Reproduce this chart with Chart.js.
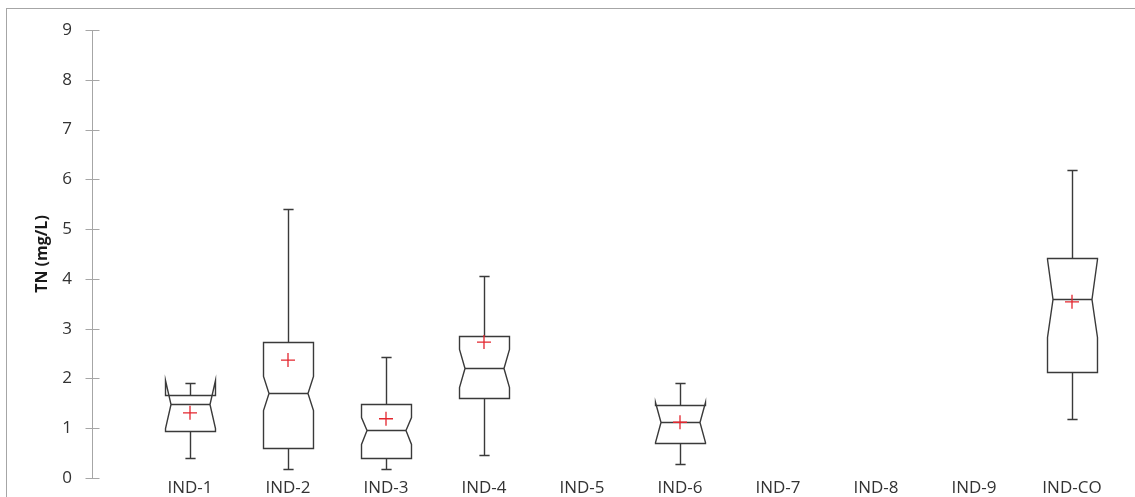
<!DOCTYPE html>
<html>
<head>
<meta charset="utf-8">
<script src="https://cdn.jsdelivr.net/npm/chart.js@4/dist/chart.umd.min.js"></script>
<style>
  html, body { margin: 0; padding: 0; background: #ffffff; }
  #wrap { width: 1135px; height: 497px; position: relative; }
</style>
</head>
<body>
<div id="wrap"><canvas id="chart"></canvas></div>
<script>
// Total nitrogen by site: box statistics (mg/L). null = no samples.
const categories  = ['IND-1', 'IND-2', 'IND-3', 'IND-4', 'IND-5', 'IND-6', 'IND-7', 'IND-8', 'IND-9', 'IND-CO'];
const whiskerLow  = [0.41, 0.19, 0.18, 0.46, null, 0.28, null, null, null, 1.19];
const q1          = [0.94, 0.60, 0.41, 1.60, null, 0.70, null, null, null, 2.13];
const notchLow    = [1.00, 1.36, 0.69, 1.83, null, 0.73, null, null, null, 2.83];
const median      = [1.48, 1.70, 0.96, 2.20, null, 1.13, null, null, null, 3.59];
const notchHigh   = [1.96, 2.05, 1.23, 2.60, null, 1.53, null, null, null, 4.40];
const q3          = [1.66, 2.74, 1.48, 2.85, null, 1.46, null, null, null, 4.42];
const whiskerHigh = [1.90, 5.40, 2.43, 4.06, null, 1.90, null, null, null, 6.19];
const means       = [1.31, 2.37, 1.19, 2.73, null, 1.12, null, null, null, 3.54];
const yTicks      = [0, 1, 2, 3, 4, 5, 6, 7, 8, 9];

const FONT = '"Open Sans", "DejaVu Sans", sans-serif';

// Light frame around the whole figure
const framePlugin = {
  id: 'frame',
  beforeDraw(chart) {
    const ctx = chart.ctx;
    ctx.save();
    ctx.strokeStyle = '#a6a6a6';
    ctx.lineWidth = 1;
    ctx.strokeRect(6.5, 8.5, 2000, 2000);
    ctx.restore();
  }
};

// Tick marks that cross the value axis on both sides
const crossTicksPlugin = {
  id: 'crossTicks',
  afterDraw(chart) {
    const y = chart.scales.y;
    const ax = Math.round(chart.chartArea.left) + 0.5;
    const ctx = chart.ctx;
    ctx.save();
    ctx.strokeStyle = '#a6a6a6';
    ctx.lineWidth = 1;
    ctx.beginPath();
    yTicks.forEach(v => {
      const py = Math.round(y.getPixelForValue(v)) + 0.5;
      ctx.moveTo(ax - 7, py);
      ctx.lineTo(ax + 7, py);
    });
    ctx.stroke();
    ctx.restore();
  }
};

// Notched boxes with whiskers, positioned through the chart scales
const notchedBoxPlugin = {
  id: 'notchedBoxes',
  beforeDatasetsDraw(chart) {
    const xs = chart.scales.x, ys = chart.scales.y;
    const ctx = chart.ctx;
    const unit = xs.getPixelForValue(1) - xs.getPixelForValue(0);
    const half = unit * 0.255;
    const indent = half * 0.22;
    const cap = unit * 0.052;
    const P = v => Math.round(ys.getPixelForValue(v)) + 0.5;
    ctx.save();
    ctx.lineWidth = 1.4;
    ctx.strokeStyle = '#3a3a3a';
    categories.forEach((c, i) => {
      if (median[i] == null) return;
      const cx = Math.round(xs.getPixelForValue(i)) + 0.5;
      const L = cx - half, R = cx + half;
      // whiskers
      ctx.beginPath();
      ctx.moveTo(cx, P(q3[i]));
      ctx.lineTo(cx, P(whiskerHigh[i]));
      ctx.moveTo(cx - cap, P(whiskerHigh[i]));
      ctx.lineTo(cx + cap, P(whiskerHigh[i]));
      ctx.moveTo(cx, P(q1[i]));
      ctx.lineTo(cx, P(whiskerLow[i]));
      ctx.moveTo(cx - cap, P(whiskerLow[i]));
      ctx.lineTo(cx + cap, P(whiskerLow[i]));
      ctx.stroke();
      // notched box outline
      ctx.beginPath();
      ctx.moveTo(L, P(q1[i]));
      ctx.lineTo(L, P(notchLow[i]));
      ctx.lineTo(L + indent, P(median[i]));
      ctx.lineTo(L, P(notchHigh[i]));
      ctx.lineTo(L, P(q3[i]));
      ctx.lineTo(R, P(q3[i]));
      ctx.lineTo(R, P(notchHigh[i]));
      ctx.lineTo(R - indent, P(median[i]));
      ctx.lineTo(R, P(notchLow[i]));
      ctx.lineTo(R, P(q1[i]));
      ctx.closePath();
      ctx.stroke();
      // median
      ctx.beginPath();
      ctx.moveTo(L + indent, P(median[i]));
      ctx.lineTo(R - indent, P(median[i]));
      ctx.stroke();
    });
    ctx.restore();
  }
};

const meanPoints = [];
means.forEach((m, i) => { if (m != null) meanPoints.push({ x: i, y: m }); });

new Chart(document.getElementById('chart'), {
  type: 'scatter',
  data: {
    datasets: [{
      label: 'Mean',
      data: meanPoints,
      pointStyle: 'cross',
      pointRadius: 7,
      pointHoverRadius: 7,
      borderColor: '#e3262e',
      backgroundColor: '#e3262e',
      pointBorderWidth: 1.3
    }]
  },
  options: {
    responsive: true,
    maintainAspectRatio: false,
    animation: false,
    devicePixelRatio: 1,
    layout: { padding: { left: 0, right: 14, top: 30, bottom: 0 } },
    plugins: {
      legend: { display: false },
      tooltip: { enabled: false }
    },
    scales: {
      x: {
        type: 'linear',
        min: -1,
        max: 9.5,
        afterBuildTicks: s => { s.ticks = categories.map((c, i) => ({ value: i })); },
        afterFit: s => { s.height = 19; },
        ticks: {
          callback: v => categories[v],
          autoSkip: false,
          maxRotation: 0,
          padding: 0,
          color: '#333333',
          font: { family: FONT, size: 17 }
        },
        grid: { display: false, drawTicks: false },
        border: { display: false }
      },
      y: {
        type: 'linear',
        min: 0,
        max: 9,
        afterBuildTicks: s => { s.ticks = yTicks.map(v => ({ value: v })); },
        afterFit: s => { s.width = 92; },
        ticks: {
          padding: 0,
          color: '#333333',
          font: { family: FONT, size: 17 }
        },
        grid: { display: false, drawTicks: true, tickLength: 20 },
        border: { display: true, color: '#a6a6a6', width: 1 },
        title: {
          display: true,
          text: 'TN (mg/L)',
          color: '#1a1a1a',
          font: { family: FONT, size: 16, weight: 'bold' },
          padding: { top: 33, bottom: 0 }
        }
      }
    }
  },
  plugins: [framePlugin, crossTicksPlugin, notchedBoxPlugin]
});
</script>
</body>
</html>
